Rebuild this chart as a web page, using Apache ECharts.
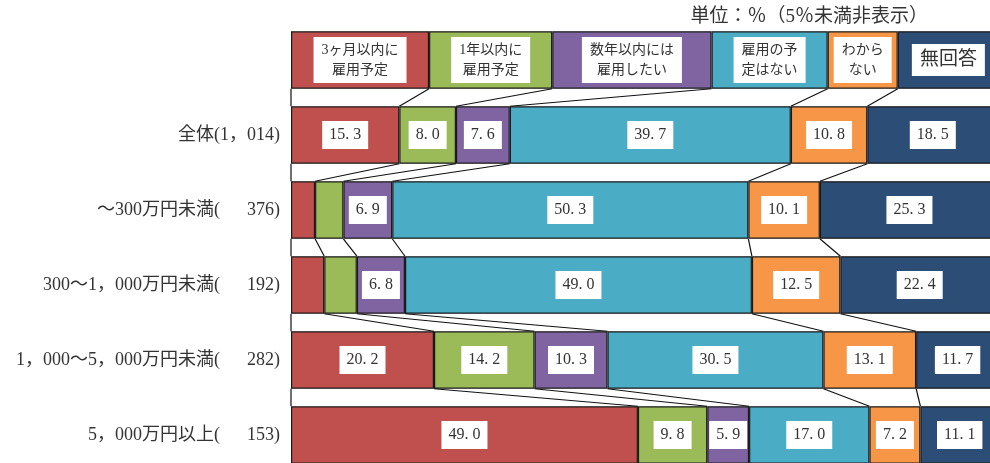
<!DOCTYPE html>
<html><head><meta charset="utf-8">
<script src="https://cdn.jsdelivr.net/npm/echarts@6/dist/echarts.min.js"></script>
<style>html,body{margin:0;padding:0;background:#fff}#c{width:990px;height:463px}</style>
</head><body><div id="c"></div>
<script>
const categories = ['', '全体(1，014)', '～300万円未満(　  376)', '300～1，000万円未満(　  192)', '1，000～5，000万円未満(　  282)', '5，000万円以上(　  153)'];
const seriesNames = ['3ヶ月以内に雇用予定', '1年以内に雇用予定', '数年以内には雇用したい', '雇用の予定はない', 'わからない', '無回答'];
const legendLabels = ['3ヶ月以内に\n雇用予定', '1年以内に\n雇用予定', '数年以内には\n雇用したい', '雇用の予\n定はない', 'わから\nない', '無回答'];
const legendWidths = [19.5, 17.4, 22.5, 16.4, 9.9, 14.3];
const s3m  = [15.3, 3.4, 4.7, 20.2, 49.0];
const s1y  = [8.0, 4.0, 4.6, 14.2, 9.8];
const sNy  = [7.6, 6.9, 6.8, 10.3, 5.9];
const sNo  = [39.7, 50.3, 49.0, 30.5, 17.0];
const sDk  = [10.8, 10.1, 12.5, 13.1, 7.2];
const sNa  = [18.5, 25.3, 22.4, 11.7, 11.1];
const colors = ['#C0504D', '#9BBB59', '#8064A2', '#4BACC6', '#F79646', '#2C4D75'];
const titleText = '単位：％（5％未満非表示）';
const threshold = 5;

const FONT = '"Liberation Serif", "Noto Sans CJK JP", serif';
const allSeries = [s3m, s1y, sNy, sNo, sDk, sNa];
const BAR_RATIO = 0.767;

const rows = [legendWidths].concat(categories.slice(1).map((c, r) => allSeries.map(s => s[r])));

const barSeries = allSeries.map((vals, si) => {
  const data = [];
  data.push({
    value: legendWidths[si],
    label: {
      show: true,
      formatter: legendLabels[si],
      fontSize: si === 5 ? 19 : 14,
      lineHeight: si === 5 ? 22 : 20,
      padding: si === 5 ? [5, 8] : [3, 8],
      color: '#333'
    }
  });
  vals.forEach(v => {
    data.push({
      value: v,
      label: { show: v >= threshold }
    });
  });
  return {
    name: seriesNames[si],
    type: 'bar',
    stack: 'total',
    barWidth: (BAR_RATIO * 100) + '%',
    itemStyle: { color: colors[si], borderColor: '#1a1a1a', borderWidth: 1.2 },
    label: {
      position: 'inside',
      backgroundColor: '#fff',
      padding: [6, 7],
      color: '#333',
      fontSize: 16,
      fontFamily: FONT,
      formatter: p => p.value.toFixed(1).replace('.', '. ')
    },
    data: data,
    z: 2
  };
});

const connData = [];
for (let r = 0; r < rows.length - 1; r++) {
  let cu = 0, cl = 0;
  connData.push([0, 0, r]);
  for (let k = 0; k < 5; k++) {
    cu += rows[r][k];
    cl += rows[r + 1][k];
    connData.push([cu, cl, r]);
  }
}

const connSeries = {
  type: 'custom',
  data: connData,
  encode: { x: [0, 1], y: 2 },
  z: 3,
  silent: true,
  renderItem: function (params, api) {
    const r = api.value(2);
    const band = api.size([0, 1])[1];
    const h = band * BAR_RATIO / 2;
    const p1 = api.coord([api.value(0), r]);
    const p2 = api.coord([api.value(1), r + 1]);
    return {
      type: 'line',
      shape: { x1: p1[0], y1: p1[1] + h, x2: p2[0], y2: p2[1] - h },
      style: { stroke: '#111', lineWidth: 1.2 }
    };
  }
};

const chart = echarts.init(document.getElementById('c'), null, { renderer: 'canvas' });
chart.setOption({
  animation: false,
  textStyle: { fontFamily: FONT },
  title: {
    text: titleText,
    right: 57, top: 3,
    textStyle: { fontSize: 19, fontWeight: 'normal', color: '#333', fontFamily: FONT }
  },
  grid: { left: 291, top: 22.5, width: 708, height: 450, containLabel: false, outerBoundsMode: 'none' },
  xAxis: { type: 'value', min: 0, max: 100, show: false },
  yAxis: {
    type: 'category',
    inverse: true,
    data: categories,
    axisLine: { show: false },
    axisTick: { show: false },
    axisLabel: { fontSize: 18, color: '#333', margin: 11, fontFamily: FONT }
  },
  series: barSeries.concat([connSeries])
});
</script>
</body></html>
